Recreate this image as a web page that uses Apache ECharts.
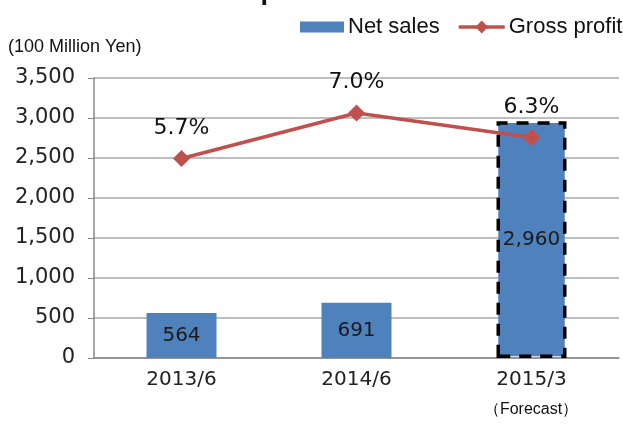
<!DOCTYPE html>
<html>
<head>
<meta charset="utf-8">
<script src="https://cdn.jsdelivr.net/npm/echarts@6/dist/echarts.min.js"></script>
<style>
  html, body { margin: 0; padding: 0; background: #fff; }
  #chart { width: 623px; height: 426px; }
</style>
</head>
<body>
<div id="chart"></div>
<script>
const categories = ['2013/6', '2014/6', '2015/3'];
const netSales = [564, 691, 2960];
const grossMargin = [5.7, 7.0, 6.3];   // % labels, plotted on a hidden 0-8 axis
const yTicks = [0, 3500, 500];          // min, max, interval

const chart = echarts.init(document.getElementById('chart'));
const font = 'Liberation Sans, Arial, sans-serif';
const numFont = 'DejaVu Sans, sans-serif';

chart.setOption({
  animation: false,
  grid: { left: 94, right: 4, top: 78, bottom: 68 },
  graphic: [
    { type: 'text', left: 22, top: -22, style: { text: 'Net sales & Gross profit', font: 'bold 27px ' + font, fill: '#111' } },
    { type: 'text', left: 8, top: 38, style: { text: '(100 Million Yen)', font: '18px ' + font, fill: '#111' } },
    { type: 'text', x: 531, y: 402, style: { text: '（Forecast）', font: '16px ' + font, fill: '#111', textAlign: 'center' } }
  ],
  legend: [{
    left: 295, top: 11,
    itemWidth: 44, itemHeight: 11,
    icon: 'rect',
    textStyle: { fontSize: 22, fontFamily: font, color: '#111', padding: [0, 0, 0, -1] },
    data: ['Net sales']
  }, {
    left: 452, top: 11,
    itemWidth: 46, itemHeight: 16,
    lineStyle: { width: 3.5 },
    textStyle: { fontSize: 22, fontFamily: font, color: '#111', padding: [0, 0, 0, -1] },
    data: ['Gross profit']
  }],
  xAxis: {
    type: 'category',
    data: categories,
    axisLine: { lineStyle: { color: '#888', width: 1.5 } },
    axisTick: { length: 5, lineStyle: { color: '#888' } },
    axisLabel: { fontSize: 20, fontFamily: numFont, color: '#222', margin: 12 }
  },
  yAxis: [{
    type: 'value',
    min: yTicks[0], max: yTicks[1], interval: yTicks[2],
    axisLine: { show: true, lineStyle: { color: '#888', width: 1.5 } },
    axisTick: { show: true, length: 6, lineStyle: { color: '#888' } },
    splitLine: { lineStyle: { color: '#aaa', width: 1.5 } },
    axisLabel: {
      fontSize: 21, fontFamily: numFont, color: '#222', margin: 19,
      formatter: v => v.toLocaleString('en-US')
    }
  }, {
    type: 'value', min: 0, max: 8, show: false
  }],
  series: [{
    name: 'Net sales',
    type: 'bar',
    barWidth: '40%',
    itemStyle: { color: '#4F81BD' },
    data: netSales.map((v, i) => i === 2
      ? { value: v, itemStyle: { borderColor: '#000', borderWidth: 3.5, borderType: [12, 9] } }
      : v),
    label: {
      show: true, position: 'inside', fontSize: 20, fontFamily: numFont, color: '#1a1a1a',
      formatter: p => p.value.toLocaleString('en-US')
    },
    z: 2
  }, {
    name: 'Gross profit',
    type: 'line',
    yAxisIndex: 1,
    data: grossMargin,
    symbol: 'diamond', symbolSize: 17,
    lineStyle: { color: '#C0504D', width: 3.5 },
    itemStyle: { color: '#C0504D' },
    label: {
      show: true, position: 'top', distance: 11, fontSize: 22, fontFamily: numFont, color: '#111',
      formatter: p => p.value.toFixed(1) + '%'
    },
    z: 3
  }]
});
</script>
</body>
</html>
